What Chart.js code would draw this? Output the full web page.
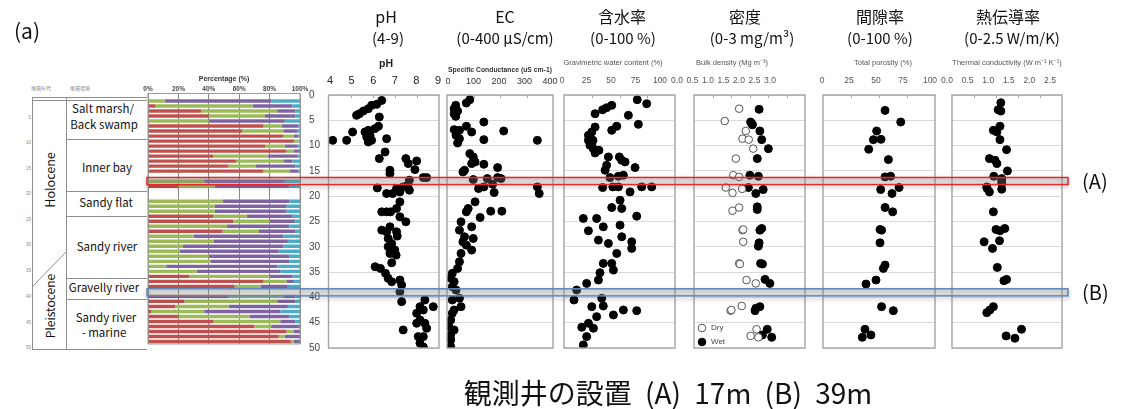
<!DOCTYPE html>
<html lang="ja">
<head>
<meta charset="utf-8">
<title>Depth profiles</title>
<script src="https://cdn.jsdelivr.net/npm/chart.js@4/dist/chart.umd.min.js"></script>
<style>
  html, body { margin:0; padding:0; background:#fff; }
  #fig { position:relative; width:1134px; height:409px; overflow:hidden;
         font-family:"Noto Sans CJK JP","Noto Sans",sans-serif; color:#111; }
  #fig canvas, #fig svg { position:absolute; left:0; top:0; }
  .lbl { position:absolute; white-space:nowrap; line-height:1; transform:translate(-50%,-50%); }
  .sm { font-family:"Liberation Sans",Arial,sans-serif; color:#555; }
</style>
</head>
<body>
<div id="fig">
  <svg width="150" height="360" viewBox="0 0 150 360">
    <g stroke="#8f8f8f" stroke-width="1" fill="none">
      <path d="M32 97.5H147M32 100.5H147M32.5 97V349M66.5 97V349M32 349.5H147
               M66 139.5H147M66 191.5H147M66 216.5H147M66 278.5H147M66 299.5H147"/>
      <path d="M66 252L32 287"/>
    </g>
    <g font-family="Noto Sans CJK JP" font-size="5" fill="#888" text-anchor="middle">
      <text x="41" y="90">堆積年代</text>
      <text x="80" y="90">堆積環境</text>
    </g>
    <g font-family="Liberation Sans" font-size="4.5" fill="#888" text-anchor="end" dominant-baseline="central">
      <text x="31" y="117">5</text><text x="31" y="142">10</text><text x="31" y="168">15</text>
      <text x="31" y="193">20</text><text x="31" y="219">25</text><text x="31" y="244">30</text>
      <text x="31" y="270">35</text><text x="31" y="296">40</text><text x="31" y="322">45</text>
      <text x="31" y="347">50</text>
    </g>
    <g font-family="Noto Sans CJK JP" font-size="11.5" fill="#111" text-anchor="middle" dominant-baseline="central">
      <text x="103" y="108">Salt marsh/</text>
      <text x="104" y="124">Back swamp</text>
      <text x="107" y="167">Inner bay</text>
      <text x="106" y="202">Sandy flat</text>
      <text x="107" y="246">Sandy river</text>
      <text x="104" y="287">Gravelly river</text>
      <text x="106" y="317">Sandy river</text>
      <text x="104" y="332">- marine</text>
      <text transform="translate(49,180) rotate(-90)" font-size="12.5">Holocene</text>
      <text transform="translate(49,306) rotate(-90)" font-size="12">Pleistocene</text>
    </g>
  </svg>
</div>
<script>
// ---------- grain-size shares of each 1 m row (row = depth in m) ----------
const rowDepths = [0,1,2,3,4,5,6,7,8,9,10,11,12,13,14,15,16,17,18,19,20,21,22,23,24,
                   25,26,27,28,29,30,31,32,33,34,35,36,37,38,39,40,41,42,43,44,45,46,47,48,49];
const pctRed    = [null,0,5,35,40,0,76,62,89,96,77,91,43,58,53,76,null,0,20,null,null,
                   0,0,0,43,56,1,49,0,0,0,0,0,0,0,0,27,76,57,null,53,24,18,2,20,43,70,91,86,94];
const pctGreen  = [null,11,64,50,37,40,12,27,7,3,13,5,36,31,18,17,null,37,24,null,null,
                   49,44,44,22,24,51,24,30,43,23,21,40,41,12,32,53,15,17,null,36,61,35,35,47,44,11,5,4,2];
const pctPurple = [null,70,26,12,20,50,11,9,3,0,8,4,19,6,26,6,null,53,49,null,null,
                   44,47,47,30,17,41,24,59,49,66,65,53,52,73,55,15,5,18,null,8,12,39,50,26,10,19,4,10,4];
const pctCyan   = [null,19,5,3,3,10,1,2,1,1,2,0,2,5,3,1,null,10,7,null,null,
                   7,9,9,5,3,7,3,11,8,11,14,7,7,15,13,5,4,8,null,3,3,8,13,7,3,0,0,0,0];
const pctTicks  = [0,20,40,60,80,100];

// ---------- pH ----------
const phValues = [6.41,6.18,5.95,5.80,5.58,5.40,5.27,6.30,6.26,6.10,5.80,5.65,5.09,5.88,5.73,6.63,4.19,4.82,5.80,5.95,
                  6.56,6.30,7.50,7.99,7.61,6.78,7.91,7.66,8.29,8.44,6.78,7.58,7.38,7.08,6.21,6.63,6.90,7.23,7.66,7.23,
                  7.08,6.41,6.63,6.81,7.23,7.50,6.78,6.41,6.63,7.08,7.11,6.70,6.86,6.70,7.00,6.78,7.06,6.86,6.11,6.35,
                  6.58,6.70,6.86,7.23,7.31,7.23,7.31,8.36,8.74,8.14,7.99,8.29,8.14,8.44,7.38,8.06,8.29,8.14,8.29,7.99,8.36];
const phDepths = [1.07,1.85,2.05,2.71,3.17,3.70,4.02,4.35,6.19,6.65,6.98,7.31,7.31,7.97,8.30,8.63,8.96,8.96,9.28,8.96,
                  11.26,12.57,12.57,13.03,13.56,14.87,14.74,16.84,16.32,16.32,15.53,17.83,18.16,18.49,18.36,19.47,19.47,19.15,18.82,21.12,
                  22.43,23.09,23.09,23.09,24.08,25.06,26.05,26.71,27.03,27.03,27.89,28.35,29.34,29.99,30.65,31.31,31.64,33.15,33.94,34.27,
                  35.25,36.24,36.90,36.57,37.55,38.87,40.84,40.51,41.83,41.83,43.14,42.49,44.46,46.10,46.43,47.75,47.75,49.06,49.80,45.12,45.12];
const phTicks  = [4,5,6,7,8,9];

// ---------- specific conductance (uS/cm) ----------
const ecValues = [86,73,33,27,40,27,33,139,73,27,47,93,214,34,47,139,341,40,86,99,106,139,93,191,66,60,152,191,204,99,
                  139,119,172,178,341,348,106,80,73,165,207,125,53,47,93,99,66,60,73,93,53,47,40,20,14,27,20,34,20,47,
                  53,27,20,14,7,27,14,14,14];
const ecDepths = [0.93,1.59,2.05,2.71,3.17,3.70,4.22,5.34,6.19,6.85,6.98,7.31,7.11,7.97,8.63,8.82,8.96,9.48,11.58,12.24,
                  13.23,13.69,13.56,14.35,14.87,15.20,16.52,16.32,16.52,16.71,18.16,18.49,17.63,19.28,18.16,19.47,21.12,22.43,23.09,22.96,
                  22.96,24.21,25.06,26.71,26.05,28.35,28.02,29.01,29.67,30.65,31.31,32.95,34.27,35.25,36.24,36.90,37.88,38.54,40.51,40.18,
                  41.83,42.49,43.14,44.46,45.77,46.43,47.42,48.40,49.72];
const ecTicks  = [0,100,200,300,400];

// ---------- gravimetric water content (%) ----------
const wcValues = [66,74.5,43,38.4,34.8,28,58,67,47.5,43,28,25,22,22,25,26.4,28,40,52,38.4,64,37,41.4,49,53.5,34.8,44,49,59.5,70,
                  79,50.5,43,52,65.5,17.4,29.4,22,35.4,50.5,52,31,40,61,61,47.5,43,35.4,44.5,32.4,31,20.4,11.4,9,25,34,35.4,44.5,53.5,65.5,
                  29.4,26.5,16,20.4,17.4,22,23.4,26.1,23.4,31.5,55,49.9];
const wcDepths = [0.93,1.72,2.05,2.51,2.91,3.70,4.02,5.80,6.19,6.98,6.33,7.31,7.97,8.96,9.61,10.6,11.45,12.24,12.90,13.89,14.35,14.87,16.32,16.06,15.86,18.29,18.16,18.16,19.15,18.16,
                  18.16,20.79,22.24,22.43,23.95,24.40,24.40,26.84,26.05,25.72,28.02,28.68,29.34,29.01,30.32,31.31,33.28,33.28,34.60,35.12,36.57,37.23,38.54,40.51,41.83,40.18,41.70,43.47,42.49,42.62,
                  43.80,46.10,45.90,47.75,49.39,45.12,8.30,8.96,9.94,10.93,13.23,12.24];
const wcTicks  = [0,25,50,75,100];

// ---------- bulk density (Mg/m3) ----------
const bdWetValues = [1.76,1.53,1.58,1.78,1.83,2.01,1.71,1.51,1.74,1.47,1.67,1.87,1.71,1.83,1.76,1.80,1.92,2.05,1.67,1.78,
                     1.98,1.85,2.10,1.71,1.78,1.74,1.85,1.65,1.56];
const bdWetDepths = [2.84,5.34,5.90,7.11,8.82,10.6,12.57,15.86,16.06,18.29,19.47,18.69,22.10,26.38,29.21,33.28,36.44,37.23,42.16,41.83,
                     46.30,47.42,47.88,22.63,26.71,29.87,33.41,42.62,5.67];
const bdDryValues = [1.22,0.83,1.40,1.31,1.48,1.60,1.13,1.06,1.22,0.86,1.04,1.30,1.04,1.22,1.31,1.33,1.22,1.42,1.67,1.29,
                     0.99,1.69,1.53,1.74,1.33,1.24,1.01];
const bdDryDepths = [2.71,5.14,7.11,8.63,8.82,10.6,12.57,15.86,16.19,18.29,19.34,18.55,22.89,22.24,26.71,29.01,33.28,36.57,37.23,41.70,
                     42.62,46.30,47.61,47.88,26.58,33.41,42.49];
const bdTicks  = [0,0.5,1,1.5,2,2.5,3];

// ---------- total porosity (%) ----------
const tpValues = [55.4,69.4,47.9,45.0,51.8,40.8,58.4,55.4,60.4,67.9,51.5,61.6,55.4,62.2,50.9,52.3,50.9,55.4,53.9,47.3,
                  38.4,52.3,62.8,37.5,35.1,42.8];
const tpDepths = [3.04,5.34,7.11,8.82,8.76,10.73,12.77,16.19,16.06,18.29,18.69,19.47,22.24,23.09,26.58,26.71,29.21,33.61,34.27,36.57,
                  37.36,41.83,42.62,46.30,47.88,47.42];
const tpTicks  = [0,25,50,75,100];

// ---------- thermal conductivity (W/m/K) ----------
const tcValues = [1.11,1.05,1.11,1.09,0.94,1.02,1.09,1.24,0.85,0.98,1.02,1.26,0.95,1.13,1.13,0.79,0.85,1.13,0.94,1.00,
                  1.20,1.09,0.73,1.08,0.92,1.03,1.24,1.18,0.94,0.79,0.86,1.58,1.23,1.43,1.13,0.80];
const tcDepths = [1.53,2.91,3.17,6.19,6.98,7.31,8.82,10.80,12.57,12.90,13.56,15.00,16.06,16.52,17.50,18.16,19.15,18.62,23.09,26.58,
                  26.38,26.84,29.01,28.81,30.32,34.07,36.44,36.70,41.83,43.01,42.49,46.30,47.61,48.07,16.98,18.49];
const tcTicks  = [0,0.5,1,1.5,2,2.5];

// ---------- observation wells ----------
const wellNames  = ['(A)','(B)'];
const wellDepths = [17, 39];

// ================= layout & drawing =================
const W = 1134, H = 409;
const BOX = { t: 95, b: 348 };          // top / bottom of the depth panels
const fig = document.getElementById('fig');
Chart.defaults.font.family = '"Liberation Sans", Arial, sans-serif';

function layer() {
  const c = document.createElement('canvas');
  c.width = W; c.height = H;
  c.style.width = W + 'px'; c.style.height = H + 'px';
  fig.appendChild(c);
  return c;
}
function text(str, x, y, css, cls) {
  const d = document.createElement('div');
  d.className = 'lbl' + (cls ? ' ' + cls : '');
  d.textContent = str;
  d.style.left = x + 'px'; d.style.top = y + 'px';
  Object.assign(d.style, css || {});
  fig.appendChild(d);
}
function pts(xs, ys) { return xs.map((v, i) => ({ x: v, y: ys[i] })); }

// grey frame round the plot area plus short inner ticks along its top edge
const framePlugin = {
  id: 'frame',
  afterDraw(chart, args, opts) {
    const a = chart.chartArea, ctx = chart.ctx;
    ctx.save();
    ctx.strokeStyle = opts.color || '#a4a4a4';
    ctx.lineWidth = opts.width || 1.4;
    ctx.strokeRect(a.left, a.top, a.right - a.left, a.bottom - a.top);
    if (opts.ticks) {
      const s = chart.scales.x;
      ctx.lineWidth = 1;
      opts.ticks.forEach(v => {
        const px = Math.round(s.getPixelForValue(v)) + 0.5;
        ctx.beginPath(); ctx.moveTo(px, a.top); ctx.lineTo(px, a.top + 3); ctx.stroke();
      });
    }
    ctx.restore();
  }
};

// ---- grain-size stacked bars ----
const barColors = ['#c0504d', '#9bbb59', '#8064a2', '#4bacc6'];
new Chart(layer(), {
  type: 'bar',
  data: {
    labels: rowDepths.map(String),
    datasets: [pctRed, pctGreen, pctPurple, pctCyan].map((d, i) => ({
      data: d, backgroundColor: barColors[i], borderWidth: 0,
      categoryPercentage: 1, barPercentage: 0.68
    }))
  },
  options: {
    indexAxis: 'y', responsive: false, animation: false, events: [],
    layout: { padding: { left: 148, right: W - 300, top: 0, bottom: H - 344 } },
    plugins: { legend: { display: false }, tooltip: { enabled: false }, frame: { color: '#9a9a9a', width: 1 } },
    scales: {
      x: {
        stacked: true, position: 'top', min: 0, max: 100,
        grid: { color: '#8a8a8a', drawTicks: false }, border: { display: false },
        ticks: { autoSkip: false, maxRotation: 0, padding: 0.5, color: '#444',
                 font: { size: 6.5, weight: 'bold' }, callback: v => v + '%' },
        afterBuildTicks: s => { s.ticks = pctTicks.map(v => ({ value: v })); },
        title: { display: true, text: 'Percentage (%)', color: '#333',
                 font: { size: 7, weight: 'bold' }, padding: { top: 74.8, bottom: 0 } },
        afterFit: s => { s.height = 93.5; }
      },
      y: { stacked: true, display: false }
    }
  },
  plugins: [framePlugin]
});

// ---- depth profile panels ----
function profile(p) {
  const first = p.labels[0], last = p.labels[p.labels.length - 1];
  const k = (p.lab1 - p.lab0) / (last - first);           // label pixels per unit
  const lmin = first + (p.l - p.lab0) / k, lmax = first + (p.r - p.lab0) / k;
  const yW = p.depthAxis ? p.l - 309 : 0;
  return new Chart(layer(), {
    type: 'scatter',
    data: { datasets: p.datasets.map(d => Object.assign({
      pointRadius: 4, pointBackgroundColor: '#000', pointBorderColor: '#000', pointBorderWidth: 1
    }, d)) },
    options: {
      responsive: false, animation: false, events: [],
      layout: { padding: { left: p.l - yW, right: W - p.r, top: 0, bottom: H - BOX.b } },
      plugins: Object.assign({ legend: { display: false }, tooltip: { enabled: false },
                               frame: { ticks: p.labels.slice(1, -1) } }, p.pluginOpts || {}),
      scales: {
        x: { type: 'linear', min: p.min, max: p.max, display: false },
        xt: {
          type: 'linear', axis: 'x', position: 'top', min: lmin, max: lmax,
          grid: { display: false, drawTicks: false }, border: { display: false },
          ticks: { autoSkip: false, maxRotation: 0, color: p.color, font: { size: p.font },
                   padding: BOX.t - p.center - p.font * 0.6,
                   callback: v => Number(v).toFixed(p.dec) },
          afterBuildTicks: s => { s.ticks = p.labels.map(v => ({ value: v })); },
          afterFit: s => { s.height = BOX.t; }
        },
        y: {
          type: 'linear', reverse: true, min: 0, max: 50, position: 'left',
          grid: { color: '#d9d9d9', drawTicks: false }, border: { display: false },
          ticks: p.depthAxis
            ? { stepSize: 5, crossAlign: 'far', color: '#444', font: { size: 10 } }
            : { display: false, stepSize: 5 },
          afterFit: s => { s.width = yW; }
        }
      }
    },
    plugins: [framePlugin].concat(p.plugins || [])
  });
}

// open/filled circle key in the lower-left corner of the density panel
const dryWetKey = {
  id: 'dryWet',
  afterDraw(chart) {
    const a = chart.chartArea, ctx = chart.ctx;
    ctx.save();
    chart.data.datasets.forEach((ds, i) => {
      const x = a.left + 8, y = a.bottom - 20 + i * 14;
      ctx.beginPath(); ctx.arc(x, y, 3.8, 0, Math.PI * 2);
      ctx.fillStyle = ds.pointBackgroundColor; ctx.fill();
      ctx.lineWidth = ds.pointBorderWidth; ctx.strokeStyle = ds.pointBorderColor; ctx.stroke();
      ctx.fillStyle = '#444'; ctx.font = '8px "Liberation Sans"'; ctx.textBaseline = 'middle';
      ctx.fillText(ds.label, x + 9, y);
    });
    ctx.restore();
  }
};

// highlighted well-screen depths drawn across every panel
const wellBands = {
  id: 'wellBands',
  afterDraw(chart, args, opts) {
    const ctx = chart.ctx, y = chart.scales.y;
    wellDepths.forEach((d, i) => {
      const y0 = y.getPixelForValue(d - 0.7), y1 = y.getPixelForValue(d + 0.7);
      ctx.save();
      ctx.fillStyle = 'rgba(160,160,160,0.28)';
      ctx.fillRect(opts.left, y0, opts.right - opts.left, y1 - y0);
      ctx.shadowColor = 'rgba(0,0,0,0.35)'; ctx.shadowBlur = 4; ctx.shadowOffsetY = 2;
      ctx.strokeStyle = opts.colors[i]; ctx.lineWidth = 1.5;
      ctx.strokeRect(opts.left, y0, opts.right - opts.left, y1 - y0);
      ctx.restore();
      ctx.save();
      ctx.fillStyle = '#111'; ctx.font = '20px "Noto Sans CJK JP"'; ctx.textBaseline = 'middle';
      ctx.fillText(wellNames[i], opts.labelX, (y0 + y1) / 2);
      ctx.restore();
    });
  }
};

profile({ l: 328.5, r: 439, min: 4, max: 9, labels: phTicks, lab0: 330, lab1: 438, dec: 0,
          font: 11, color: '#222', center: 81, depthAxis: true,
          datasets: [{ data: pts(phValues, phDepths) }] });
profile({ l: 447, r: 553, min: 0, max: 400, labels: ecTicks, lab0: 448, lab1: 550, dec: 0,
          font: 9, color: '#333', center: 82,
          datasets: [{ data: pts(ecValues, ecDepths) }] });
profile({ l: 564, r: 675, min: 0, max: 100, labels: wcTicks, lab0: 562, lab1: 660, dec: 0,
          font: 8.5, color: '#555', center: 81,
          datasets: [{ data: pts(wcValues, wcDepths) }] });
profile({ l: 694, r: 805, min: 0, max: 3, labels: bdTicks, lab0: 677, lab1: 770, dec: 1,
          font: 8.5, color: '#555', center: 81,
          datasets: [
            { label: 'Dry', data: pts(bdDryValues, bdDryDepths), pointBackgroundColor: '#fff',
              pointBorderColor: '#555', pointBorderWidth: 1, pointRadius: 3.8 },
            { label: 'Wet', data: pts(bdWetValues, bdWetDepths) }
          ],
          plugins: [dryWetKey] });
profile({ l: 823, r: 935, min: 0, max: 100, labels: tpTicks, lab0: 822, lab1: 930, dec: 0,
          font: 8.5, color: '#555', center: 81,
          datasets: [{ data: pts(tpValues, tpDepths) }] });
profile({ l: 952, r: 1062, min: 0, max: 2.5, labels: tcTicks, lab0: 947, lab1: 1050, dec: 1,
          font: 8.5, color: '#555', center: 81,
          datasets: [{ data: pts(tcValues, tcDepths) }],
          plugins: [wellBands],
          pluginOpts: { wellBands: { left: 147, right: 1068, labelX: 1082, colors: ['#e8262b', '#5b86bf'] } } });

// ---- headings ----
text('(a)', 27, 30, { fontSize: '21px' });
const heads = [
  ['pH', '(4-9)', 386, 388],
  ['EC', '(0-400 μS/cm)', 505, 505],
  ['含水率', '(0-100 %)', 622, 623],
  ['密度', '(0-3 mg/m³)', 745, 752],
  ['間隙率', '(0-100 %)', 880, 880],
  ['熱伝導率', '(0-2.5 W/m/K)', 1008, 1012]
];
heads.forEach(h => {
  text(h[0], h[2], 16, { fontSize: '16px' });
  text(h[1], h[3], 37, { fontSize: '15px' });
});
text('pH', 386, 63, { fontSize: '10.5px', fontWeight: 'bold', color: '#222' }, 'sm');
text('Specific Conductance (uS cm-1)', 500, 70, { fontSize: '6.8px', fontWeight: 'bold', color: '#333' }, 'sm');
text('Gravimetric water content (%)', 613, 63, { fontSize: '7.5px' }, 'sm');
text('Bulk density (Mg m⁻³)', 732, 63, { fontSize: '7.5px' }, 'sm');
text('Total porosity (%)', 883, 63, { fontSize: '7.5px' }, 'sm');
text('Thermal conductivity (W m⁻¹ K⁻¹)', 1007, 63, { fontSize: '7.5px' }, 'sm');
text('観測井の設置 (A) 17m (B) 39m', 668, 392, { fontSize: '28px', wordSpacing: '7px' });
</script>
</body>
</html>
